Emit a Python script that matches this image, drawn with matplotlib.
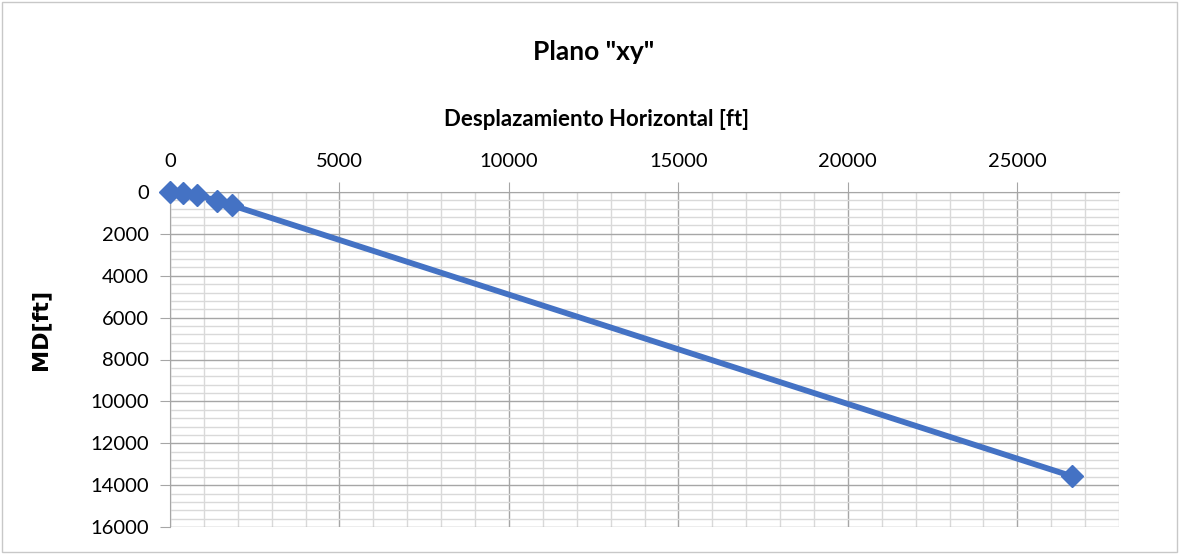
import matplotlib
matplotlib.use("Agg")
import matplotlib.pyplot as plt
from matplotlib.ticker import MultipleLocator
from matplotlib.patches import Rectangle

# Data
desplazamiento = [0, 380, 800, 1380, 1820, 26600]
md = [0, 50, 150, 410, 630, 13570]

title = 'Plano "xy"'
xlabel = "Desplazamiento Horizontal [ft]"
ylabel = "MD[ft]"

plt.rcParams['font.family'] = ['Lato', 'DejaVu Sans']

fig = plt.figure(figsize=(11.79, 5.54), dpi=100)
fig.patch.set_facecolor("white")
fig.patches.append(Rectangle((0.002, 0.003), 0.996, 0.994, transform=fig.transFigure,
                             fill=False, edgecolor="#c8c8c8", linewidth=1))

ax = fig.add_axes([170/1179, 1-527/554, (1119-170)/1179, (527-192)/554])

ax.plot(desplazamiento, md, color="#4472C4", linewidth=4.2, marker="D",
        markersize=11, markerfacecolor="#4472C4", markeredgecolor="#4472C4",
        zorder=3, clip_on=False)

ax.set_xlim(0, 28000)
ax.set_ylim(16000, 0)
ax.xaxis.set_major_locator(MultipleLocator(5000))
ax.xaxis.set_minor_locator(MultipleLocator(1000))
ax.yaxis.set_major_locator(MultipleLocator(2000))
ax.yaxis.set_minor_locator(MultipleLocator(400))

ax.xaxis.tick_top()
ax.grid(which="major", color="#a6a6a6", linewidth=1.0, zorder=1)
ax.grid(which="minor", color="#d9d9d9", linewidth=1.0, zorder=0)
ax.set_axisbelow(True)

for s in ["bottom", "right"]:
    ax.spines[s].set_visible(False)
ax.spines["top"].set_color("#a6a6a6")
ax.spines["left"].set_color("#a6a6a6")

ax.tick_params(axis="both", which="major", length=7, color="#a6a6a6",
               labelsize=14.5, labelcolor="#000000", direction="out", pad=8)
ax.tick_params(axis="both", which="minor", length=0)
ax.tick_params(axis="x", which="major", pad=9)

fig.text(594/1179, 1-52/554, title, ha="center", va="center",
         fontsize=19, fontweight="bold")
fig.text(597/1179, 1-120/554, xlabel, ha="center", va="center",
         fontsize=16, fontweight="bold")
fig.text(40/1179, 1-329/554, ylabel, ha="center", va="center",
         fontsize=16, fontweight="bold", rotation=90,
         family=["DejaVu Sans"])

fig.savefig("out.png", dpi=100)
